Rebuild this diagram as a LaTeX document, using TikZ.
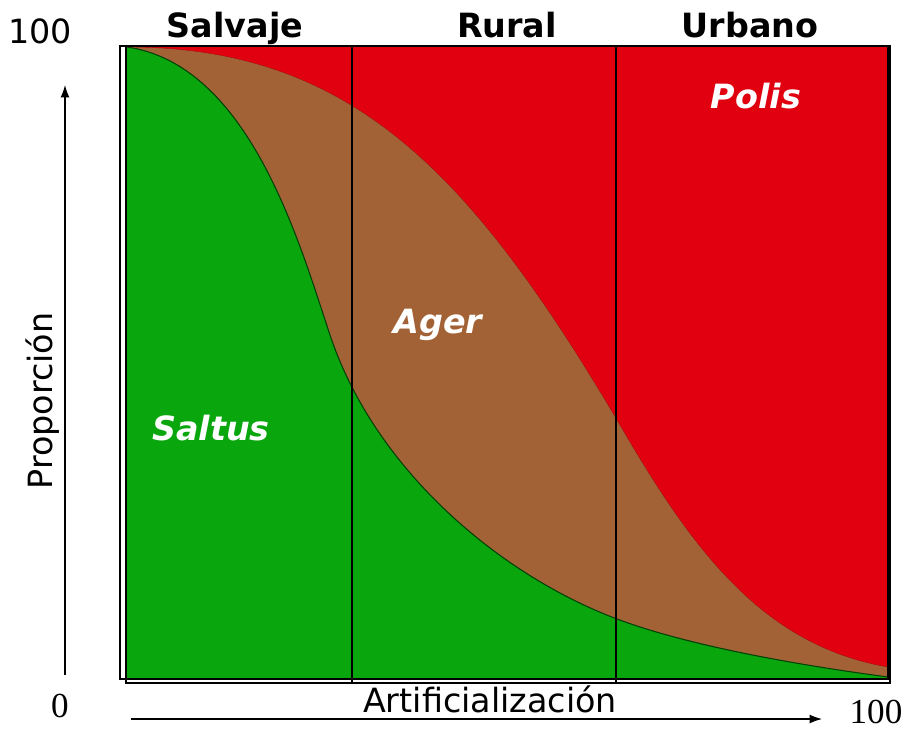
\documentclass[tikz,border=0pt]{standalone}
\usepackage{fontspec}
\setmainfont{DejaVu Sans}
\newfontfamily\numfont{Liberation Serif}
\usepackage{tikz}
\usetikzlibrary{arrows.meta}
\definecolor{saltusgreen}{RGB}{10,166,14}
\definecolor{agerbrown}{RGB}{163,98,54}
\definecolor{polisred}{RGB}{224,0,16}

\begin{document}
\begin{tikzpicture}[x=0.02cm,y=-0.02cm,>={Latex[length=7pt,width=5pt]}]
      \tikzstyle{zone label} = [font=\fontsize{19}{23}\selectfont\bfseries, anchor=base, inner sep=0pt]
      \tikzstyle{area label} = [font=\fontsize{19}{23}\selectfont\bfseries\itshape, color=white, anchor=base, inner sep=0pt]
      \tikzstyle{axis label} = [font=\fontsize{19}{23}\selectfont, anchor=base, inner sep=0pt]
      \tikzstyle{axis num} = [font=\fontsize{20}{24}\selectfont\numfont, anchor=base, inner sep=0pt]
      \tikzstyle{axis} = [draw=black, line width=0.6pt, ->]
      \def\polisline{(127,47) .. controls (350,47) and (470,170) .. (620,425) .. controls (690,545) and (760,645) .. (888,667)}
      \def\saltusline{(127,47) .. controls (250,65) and (300,245) .. (330,335) .. controls (375,470) and (500,575) .. (617,619) .. controls (697,649) and (820,668) .. (888,677)}
      \useasboundingbox (0,0) rectangle (909,730);
      %areas
      \fill[polisred] (127,46) rectangle (888,679);
      \fill[agerbrown] \polisline -- (888,679) -- (127,679) -- cycle;
      \fill[saltusgreen] \saltusline -- (888,679) -- (127,679) -- cycle;
      \draw[black!75!green, line width=0.6pt] \saltusline;
      \draw[polisred!75!black, line width=0.2pt] \polisline;
      %frame
      \draw[line width=0.6pt] (120,46) rectangle (888,679);
      \draw[line width=0.6pt] (126,46) rectangle (890,683);
      \draw[line width=0.7pt] (352,46) -- (352,683);
      \draw[line width=0.7pt] (616,46) -- (616,683);
      %nodes
      \node[zone label] (salvaje) at (235,37) {Salvaje};
      \node[zone label] (rural)   at (507,37) {Rural};
      \node[zone label] (urbano)  at (750,37) {Urbano};
      \node[area label] (polis)   at (756,108) {Polis};
      \node[area label] (ager)    at (438,333) {Ager};
      \node[area label] (saltus)  at (211,440) {Saltus};
      \node[axis label, rotate=90] (proporcion) at (52,401) {Proporción};
      \node[axis label] (artificializacion) at (490,712) {Artificialización};
      \node[axis label] (ymax) at (40,43) {100};
      \node[axis num] (zero) at (60,717) {0};
      \node[axis num] (xmax) at (876,723) {100};
      \coordinate (ybase) at (65,675);
      \coordinate (ytip)  at (65,85);
      \coordinate (xbase) at (131,719);
      \coordinate (xtip)  at (822,719);
      %lines
      \path[axis] (ybase) -- (ytip);
      \path[axis] (xbase) -- (xtip);
\end{tikzpicture}
\end{document}
